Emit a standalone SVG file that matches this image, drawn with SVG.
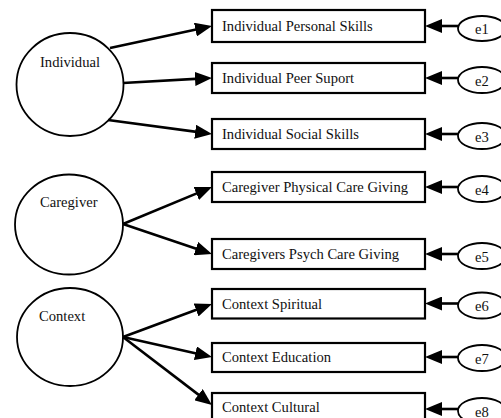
<svg xmlns="http://www.w3.org/2000/svg" width="501" height="418" viewBox="0 0 501 418">
<style>
text{font-family:"Liberation Serif","Times New Roman",serif;font-size:14.6px;fill:#111}
.lat{fill:#fff;stroke:#000;stroke-width:1.8}
.box{fill:#fff;stroke:#000;stroke-width:2.2}
.err{fill:#fff;stroke:#000;stroke-width:1.8}
.c line{stroke:#000;stroke-width:2.6;marker-end:url(#ah)}
</style>
<defs>
<marker id="ah" viewBox="0 0 17 14" refX="9" refY="7" markerWidth="17" markerHeight="14" markerUnits="userSpaceOnUse" orient="auto">
<path d="M0,0 L17,7 L0,14 z" fill="#000"/>
</marker>
</defs>
<rect width="501" height="418" fill="#fff"/>
<g id="individual"><ellipse class="lat" cx="70" cy="84.5" rx="53.5" ry="51.5"/><text x="40" y="66.5">Individual</text></g>
<g id="caregiver"><ellipse class="lat" cx="69" cy="224.5" rx="54" ry="50"/><text x="40" y="206.5">Caregiver</text></g>
<g id="context"><ellipse class="lat" cx="70" cy="337" rx="53" ry="49"/><text x="39" y="320.5">Context</text></g>
<g id="b1"><rect class="box" x="212" y="10" width="213" height="32"/><text x="222" y="31">Individual Personal Skills</text></g>
<g id="b2"><rect class="box" x="212" y="63" width="213" height="30"/><text x="222" y="83">Individual Peer Suport</text></g>
<g id="b3"><rect class="box" x="212" y="119" width="213" height="30"/><text x="222" y="139">Individual Social Skills</text></g>
<g id="b4"><rect class="box" x="212" y="172" width="213" height="30"/><text x="222" y="192">Caregiver Physical Care Giving</text></g>
<g id="b5"><rect class="box" x="212" y="239" width="213" height="30"/><text x="222" y="259">Caregivers Psych Care Giving</text></g>
<g id="b6"><rect class="box" x="212" y="289" width="213" height="29.5"/><text x="222" y="309">Context Spiritual</text></g>
<g id="b7"><rect class="box" x="212" y="343" width="213" height="29"/><text x="222" y="362">Context Education</text></g>
<g id="b8"><rect class="box" x="212" y="393" width="213" height="32"/><text x="222" y="412">Context Cultural</text></g>
<g id="e1"><ellipse class="err" cx="482" cy="28.5" rx="24" ry="12.5"/><text x="475" y="34">e1</text></g>
<g id="e2"><ellipse class="err" cx="482" cy="80" rx="24" ry="13"/><text x="475" y="85.5">e2</text></g>
<g id="e3"><ellipse class="err" cx="482" cy="136" rx="24" ry="13"/><text x="475" y="141.5">e3</text></g>
<g id="e4"><ellipse class="err" cx="482" cy="189" rx="24" ry="13"/><text x="475" y="194.5">e4</text></g>
<g id="e5"><ellipse class="err" cx="482" cy="256" rx="24" ry="13"/><text x="475" y="261.5">e5</text></g>
<g id="e6"><ellipse class="err" cx="482" cy="305.5" rx="24" ry="13"/><text x="475" y="311">e6</text></g>
<g id="e7"><ellipse class="err" cx="482" cy="358" rx="24" ry="13"/><text x="475" y="363.5">e7</text></g>
<g id="e8"><ellipse class="err" cx="482" cy="411" rx="24" ry="13"/><text x="475" y="416.5">e8</text></g>
<g id="connectors" class="c">
<line x1="110" y1="48" x2="204.2" y2="27.7"/>
<line x1="123" y1="83" x2="204" y2="78.4"/>
<line x1="108" y1="120" x2="204.1" y2="132.9"/>
<line x1="123" y1="224" x2="204.6" y2="190.1"/>
<line x1="123" y1="224" x2="204.4" y2="251.4"/>
<line x1="123" y1="337" x2="204.5" y2="306.8"/>
<line x1="123" y1="337" x2="204.2" y2="355.2"/>
<line x1="123" y1="337" x2="205.6" y2="400.1"/>
<line x1="458" y1="26" x2="433" y2="26"/>
<line x1="458" y1="78" x2="433" y2="78"/>
<line x1="458" y1="134" x2="433" y2="134"/>
<line x1="458" y1="187" x2="433" y2="187"/>
<line x1="458" y1="254" x2="433" y2="254"/>
<line x1="458" y1="303.5" x2="433" y2="303.5"/>
<line x1="458" y1="357" x2="433" y2="357"/>
<line x1="458" y1="409" x2="433" y2="409"/>
</g>
</svg>
